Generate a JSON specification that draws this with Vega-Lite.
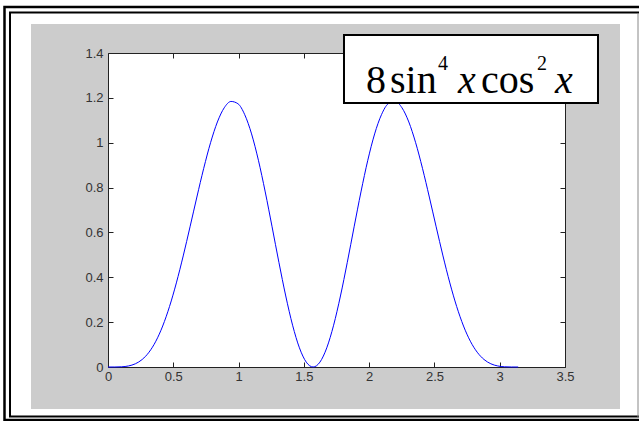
{
  "$schema": "https://vega.github.io/schema/vega-lite/v6.json",
  "width": 457,
  "height": 314,
  "autosize": {"type": "none"},
  "padding": {"left": 108, "top": 53, "right": 74, "bottom": 54},
  "background": "#cccccc",
  "config": {
    "view": {"fill": "white", "stroke": null},
    "axis": {
      "zindex": 0,
      "grid": false,
      "domainColor": "#222222",
      "domainWidth": 1,
      "tickColor": "#222222",
      "tickWidth": 1,
      "tickSize": -5,
      "labelFont": "Liberation Sans",
      "labelFontSize": 13,
      "labelColor": "#333333",
      "labelFlush": false,
      "labelOverlap": false
    }
  },
  "resolve": {"axis": {"x": "independent", "y": "independent"}},
  "datasets": {
    "curve": [
      {"x": 0, "y": 0},
      {"x": 0.05236, "y": 0.00006},
      {"x": 0.10472, "y": 0.000945},
      {"x": 0.15708, "y": 0.004674},
      {"x": 0.20944, "y": 0.014303},
      {"x": 0.2618, "y": 0.033494},
      {"x": 0.31416, "y": 0.065984},
      {"x": 0.36652, "y": 0.115004},
      {"x": 0.41888, "y": 0.182728},
      {"x": 0.47124, "y": 0.269797},
      {"x": 0.5236, "y": 0.375},
      {"x": 0.57596, "y": 0.495118},
      {"x": 0.62832, "y": 0.625},
      {"x": 0.68068, "y": 0.757848},
      {"x": 0.73304, "y": 0.885686},
      {"x": 0.7854, "y": 1.0},
      {"x": 0.83776, "y": 1.09246},
      {"x": 0.89012, "y": 1.155697},
      {"x": 0.94248, "y": 1.184017},
      {"x": 0.99484, "y": 1.174018},
      {"x": 1.0472, "y": 1.125},
      {"x": 1.09956, "y": 1.039218},
      {"x": 1.15192, "y": 0.921799},
      {"x": 1.20428, "y": 0.780469},
      {"x": 1.25664, "y": 0.625},
      {"x": 1.309, "y": 0.466506},
      {"x": 1.36136, "y": 0.316567},
      {"x": 1.41372, "y": 0.18631},
      {"x": 1.46608, "y": 0.085509},
      {"x": 1.51844, "y": 0.021792},
      {"x": 1.5708, "y": 0},
      {"x": 1.62316, "y": 0.021792},
      {"x": 1.67552, "y": 0.085509},
      {"x": 1.72788, "y": 0.18631},
      {"x": 1.78024, "y": 0.316567},
      {"x": 1.8326, "y": 0.466506},
      {"x": 1.88496, "y": 0.625},
      {"x": 1.93732, "y": 0.780469},
      {"x": 1.98968, "y": 0.921799},
      {"x": 2.04204, "y": 1.039218},
      {"x": 2.0944, "y": 1.125},
      {"x": 2.14675, "y": 1.174018},
      {"x": 2.19911, "y": 1.184017},
      {"x": 2.25147, "y": 1.155697},
      {"x": 2.30383, "y": 1.09246},
      {"x": 2.35619, "y": 1.0},
      {"x": 2.40855, "y": 0.885686},
      {"x": 2.46091, "y": 0.757848},
      {"x": 2.51327, "y": 0.625},
      {"x": 2.56563, "y": 0.495118},
      {"x": 2.61799, "y": 0.375},
      {"x": 2.67035, "y": 0.269797},
      {"x": 2.72271, "y": 0.182728},
      {"x": 2.77507, "y": 0.115004},
      {"x": 2.82743, "y": 0.065984},
      {"x": 2.87979, "y": 0.033494},
      {"x": 2.93215, "y": 0.014303},
      {"x": 2.98451, "y": 0.004674},
      {"x": 3.03687, "y": 0.000945},
      {"x": 3.08923, "y": 0.00006},
      {"x": 3.14159, "y": 0}
    ],
    "one": [{}]
  },
  "layer": [
    {
      "data": {"name": "curve"},
      "mark": {"type": "line", "color": "#0000ff", "strokeWidth": 1, "interpolate": "monotone", "clip": false},
      "encoding": {
        "x": {"field": "x", "type": "quantitative", "scale": {"domain": [0, 3.5], "nice": false, "zero": false},
              "axis": {"orient": "bottom", "title": null, "values": [0, 0.5, 1, 1.5, 2, 2.5, 3, 3.5], "format": "~g", "labelPadding": 8}},
        "y": {"field": "y", "type": "quantitative", "scale": {"domain": [0, 1.4], "nice": false, "zero": false},
              "axis": {"orient": "left", "title": null, "values": [0, 0.2, 0.4, 0.6, 0.8, 1, 1.2, 1.4], "format": "~g", "labelPadding": 10}}
      }
    },
    {
      "data": {"name": "curve"},
      "mark": {"type": "line", "opacity": 0},
      "encoding": {
        "x": {"field": "x", "type": "quantitative", "scale": {"domain": [0, 3.5], "nice": false, "zero": false},
              "axis": {"orient": "top", "title": null, "values": [0, 0.5, 1, 1.5, 2, 2.5, 3, 3.5], "labels": false}},
        "y": {"field": "y", "type": "quantitative", "scale": {"domain": [0, 1.4], "nice": false, "zero": false},
              "axis": {"orient": "right", "title": null, "values": [0, 0.2, 0.4, 0.6, 0.8, 1, 1.2, 1.4], "labels": false}}
      }
    },
    {
      "data": {"name": "one"},
      "mark": {"type": "rect", "fill": null, "stroke": "white", "strokeWidth": 60, "clip": false},
      "encoding": {
        "x": {"datum": -0.81947, "type": "quantitative", "scale": {"domain": [0, 3.5], "nice": false, "zero": false}, "axis": null},
        "x2": {"datum": 4.15098},
        "y": {"datum": 1.66306, "type": "quantitative", "scale": {"domain": [0, 1.4], "nice": false, "zero": false}, "axis": null},
        "y2": {"datum": -0.32102}
      }
    },
    {
      "data": {"name": "one"},
      "mark": {"type": "rect", "fill": null, "stroke": "black", "strokeWidth": 2.5, "clip": false},
      "encoding": {
        "x": {"datum": -0.79267, "type": "quantitative", "scale": {"domain": [0, 3.5], "nice": false, "zero": false}, "axis": null},
        "x2": {"datum": 4.2},
        "y": {"datum": 1.6051, "type": "quantitative", "scale": {"domain": [0, 1.4], "nice": false, "zero": false}, "axis": null},
        "y2": {"datum": -0.23631}
      }
    },
    {
      "data": {"name": "one"},
      "mark": {"type": "rect", "fill": null, "stroke": "black", "strokeWidth": 2, "clip": false},
      "encoding": {
        "x": {"datum": -0.75055, "type": "quantitative", "scale": {"domain": [0, 3.5], "nice": false, "zero": false}, "axis": null},
        "x2": {"datum": 4.2},
        "y": {"datum": 1.58057, "type": "quantitative", "scale": {"domain": [0, 1.4], "nice": false, "zero": false}, "axis": null},
        "y2": {"datum": -0.2207}
      }
    },
    {
      "data": {"name": "one"},
      "mark": {"type": "rule", "color": "#888888", "strokeWidth": 1, "clip": false},
      "encoding": {
        "x": {"datum": 4.0591, "type": "quantitative", "scale": {"domain": [0, 3.5], "nice": false, "zero": false}, "axis": null},
        "y": {"datum": 1.57389, "type": "quantitative", "scale": {"domain": [0, 1.4], "nice": false, "zero": false}, "axis": null},
        "y2": {"datum": -0.22293}
      }
    },
    {
      "data": {"name": "one"},
      "mark": {"type": "rect", "fill": "white", "stroke": "black", "strokeWidth": 2, "clip": false},
      "encoding": {
        "x": {"datum": 1.8074, "type": "quantitative", "scale": {"domain": [0, 3.5], "nice": false, "zero": false}, "axis": null},
        "x2": {"datum": 3.7527},
        "y": {"datum": 1.4803, "type": "quantitative", "scale": {"domain": [0, 1.4], "nice": false, "zero": false}, "axis": null},
        "y2": {"datum": 1.1771}
      }
    },
    {
      "data": {"name": "one"},
      "mark": {"type": "text", "text": "8", "font": "Liberation Serif", "fontSize": 40, "align": "left", "baseline": "alphabetic", "color": "black", "clip": false},
      "encoding": {
        "x": {"datum": 1.9759, "type": "quantitative", "scale": {"domain": [0, 3.5], "nice": false, "zero": false}, "axis": null},
        "y": {"datum": 1.22166, "type": "quantitative", "scale": {"domain": [0, 1.4], "nice": false, "zero": false}, "axis": null}
      }
    },
    {
      "data": {"name": "one"},
      "mark": {"type": "text", "text": "sin", "font": "Liberation Serif", "fontSize": 40, "align": "left", "baseline": "alphabetic", "color": "black", "clip": false},
      "encoding": {
        "x": {"datum": 2.1597, "type": "quantitative", "scale": {"domain": [0, 3.5], "nice": false, "zero": false}, "axis": null},
        "y": {"datum": 1.22166, "type": "quantitative", "scale": {"domain": [0, 1.4], "nice": false, "zero": false}, "axis": null}
      }
    },
    {
      "data": {"name": "one"},
      "mark": {"type": "text", "text": "4", "font": "Liberation Serif", "fontSize": 20, "align": "left", "baseline": "alphabetic", "color": "black", "clip": false},
      "encoding": {
        "x": {"datum": 2.5273, "type": "quantitative", "scale": {"domain": [0, 3.5], "nice": false, "zero": false}, "axis": null},
        "y": {"datum": 1.3242, "type": "quantitative", "scale": {"domain": [0, 1.4], "nice": false, "zero": false}, "axis": null}
      }
    },
    {
      "data": {"name": "one"},
      "mark": {"type": "text", "text": "x", "font": "Liberation Serif", "fontStyle": "italic", "fontSize": 40, "align": "left", "baseline": "alphabetic", "color": "black", "clip": false},
      "encoding": {
        "x": {"datum": 2.6805, "type": "quantitative", "scale": {"domain": [0, 3.5], "nice": false, "zero": false}, "axis": null},
        "y": {"datum": 1.22166, "type": "quantitative", "scale": {"domain": [0, 1.4], "nice": false, "zero": false}, "axis": null}
      }
    },
    {
      "data": {"name": "one"},
      "mark": {"type": "text", "text": "cos", "font": "Liberation Serif", "fontSize": 40, "align": "left", "baseline": "alphabetic", "color": "black", "clip": false},
      "encoding": {
        "x": {"datum": 2.8567, "type": "quantitative", "scale": {"domain": [0, 3.5], "nice": false, "zero": false}, "axis": null},
        "y": {"datum": 1.22166, "type": "quantitative", "scale": {"domain": [0, 1.4], "nice": false, "zero": false}, "axis": null}
      }
    },
    {
      "data": {"name": "one"},
      "mark": {"type": "text", "text": "2", "font": "Liberation Serif", "fontSize": 20, "align": "left", "baseline": "alphabetic", "color": "black", "clip": false},
      "encoding": {
        "x": {"datum": 3.2856, "type": "quantitative", "scale": {"domain": [0, 3.5], "nice": false, "zero": false}, "axis": null},
        "y": {"datum": 1.3242, "type": "quantitative", "scale": {"domain": [0, 1.4], "nice": false, "zero": false}, "axis": null}
      }
    },
    {
      "data": {"name": "one"},
      "mark": {"type": "text", "text": "x", "font": "Liberation Serif", "fontStyle": "italic", "fontSize": 40, "align": "left", "baseline": "alphabetic", "color": "black", "clip": false},
      "encoding": {
        "x": {"datum": 3.4234, "type": "quantitative", "scale": {"domain": [0, 3.5], "nice": false, "zero": false}, "axis": null},
        "y": {"datum": 1.22166, "type": "quantitative", "scale": {"domain": [0, 1.4], "nice": false, "zero": false}, "axis": null}
      }
    }
  ]
}
